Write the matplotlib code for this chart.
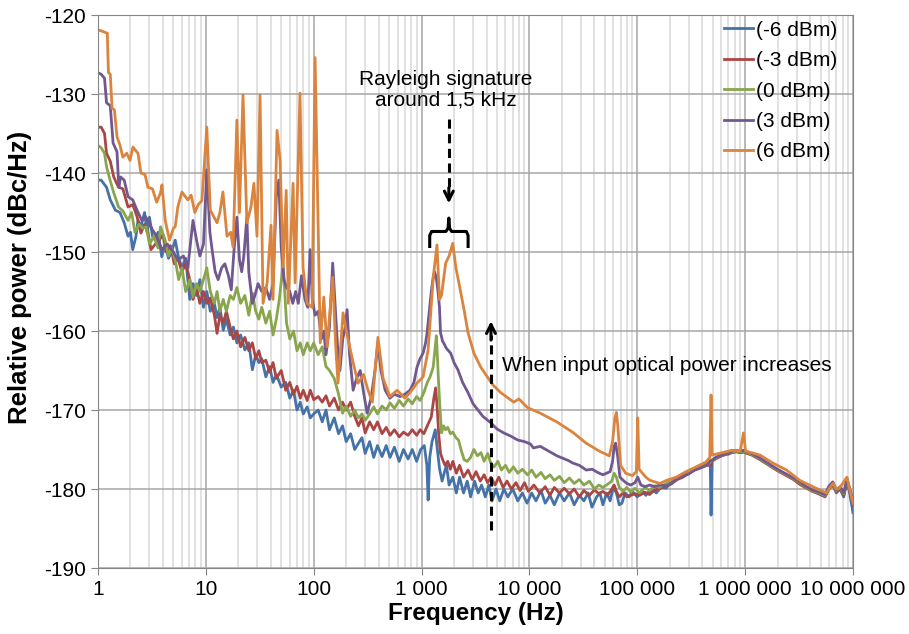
import numpy as np
import matplotlib.pyplot as plt

plt.rcParams['font.family'] = ['Liberation Sans', 'DejaVu Sans']
plt.rcParams['axes.unicode_minus'] = False

# spectra: (frequency in Hz, relative power in dBc/Hz)
minus6 = [(1.0,-140.9),(1.07,-140.9),(1.2,-141.8),(1.3,-143.4),(1.45,-144.7),(1.6,-145.0),(1.75,-146.3),(1.9,-148.0),
    (2.0,-147.5),(2.1,-149.7),(2.25,-148.0),(2.35,-146.0),(2.5,-146.8),(2.7,-145.0),(2.85,-147.5),(3.0,-145.6),
    (3.2,-148.0),(3.4,-148.5),(3.6,-147.5),(3.9,-150.6),(4.2,-149.0),(4.5,-150.8),(4.8,-150.0),(5.2,-148.5),
    (5.6,-150.8),(6.0,-152.0),(6.5,-150.8),(7.1,-156.0),(7.6,-154.0),(8.2,-155.5),(8.8,-153.5),(9.5,-157.0),
    (10.2,-155.0),(11,-157.5),(12,-156.5),(12.7,-158.3),(13.5,-157.0),(14.5,-159.9),(15.5,-158.5),(16.8,-160.5),
    (18,-159.5),(19.4,-161.5),(21,-160.5),(23,-162.4),(25,-161.5),(27,-164.9),(29,-163.0),(31,-164.0),
    (33,-163.5),(36,-165.8),(39,-164.5),(42,-166.5),(45,-165.5),(50,-167.1),(55,-166.5),(60,-168.5),
    (65,-167.5),(70,-170.0),(75,-169.0),(80,-170.5),(87,-169.6),(93,-171.0),(100,-170.5),(110,-170.0),
    (120,-171.5),(130,-170.0),(140,-172.5),(155,-171.0),(170,-173.0),(185,-172.0),(200,-174.0),(220,-173.0),
    (240,-175.0),(260,-174.2),(280,-173.5),(300,-175.5),(330,-174.0),(360,-176.0),(390,-174.5),(430,-175.9),
    (470,-174.5),(510,-176.0),(560,-174.7),(620,-176.5),(680,-175.0),(750,-176.2),(820,-175.0),(900,-176.5),
    (980,-175.0),(1060,-174.5),(1120,-177.0),(1150,-181.4),(1190,-176.0),(1250,-174.0),(1340,-172.5),(1400,-175.0),
    (1470,-177.5),(1550,-179.0),(1620,-178.0),(1700,-177.0),(1800,-179.5),(1950,-178.5),(2100,-180.5),(2250,-178.5),
    (2450,-180.5),(2650,-179.0),(2850,-181.0),(3100,-179.0),(3350,-180.5),(3600,-179.5),(3900,-181.0),(4200,-179.5),
    (4500,-181.5),(4900,-180.0),(5300,-181.5),(5800,-180.0),(6300,-181.0),(7000,-180.0),(7800,-181.5),(8600,-180.5),
    (9500,-181.8),(10500,-180.5),(11500,-181.5),(12800,-180.2),(14000,-181.8),(15500,-180.8),(17000,-182.0),
    (19000,-180.5),(21000,-181.5),(23500,-180.5),(26000,-182.0),(29000,-180.8),(32000,-181.5),(35000,-180.5),
    (38000,-182.3),(42000,-181.0),(45000,-180.5),(48000,-182.0),(52000,-180.5),(56000,-181.5),(60000,-179.8),
    (64000,-180.5),(68000,-182.0),(72000,-181.8),(77000,-180.5),(84000,-181.0),(90000,-180.3),(100000,-181.0),
    (110000,-180.2),(120000,-180.8),(135000,-180.0),(150000,-180.5),(165000,-179.8),(185000,-179.9),(210000,-179.0),
    (240000,-178.5),(270000,-178.0),(300000,-177.8),(340000,-177.5),(390000,-177.0),(440000,-176.8),(475000,-177.0),
    (483000,-183.3),(494000,-176.5),(530000,-176.2),(580000,-175.9),(640000,-175.6),(700000,-175.6),(760000,-175.3),
    (830000,-175.2),(900000,-175.4),(970000,-175.3),(1.05e6,-175.5),(1.15e6,-175.6),(1.3e6,-176.0),(1.5e6,-176.6),
    (1.7e6,-177.0),(2.0e6,-177.6),(2.4e6,-178.2),(2.8e6,-178.7),(3.2e6,-179.3),(3.7e6,-179.8),(4.2e6,-180.2),
    (4.8e6,-180.6),(5.5e6,-181.0),(6.0e6,-180.0),(6.5e6,-179.5),(7.0e6,-180.5),(7.6e6,-180.0),(8.2e6,-181.0),
    (8.8e6,-179.0),(9.3e6,-180.5),(1.0e7,-183.0)]

minus3 = [(1.0,-134.2),(1.07,-134.2),(1.15,-135.0),(1.2,-137.5),(1.3,-138.5),(1.4,-140.5),(1.55,-141.8),(1.7,-142.0),
    (1.9,-144.3),(2.1,-144.0),(2.3,-145.5),(2.5,-147.6),(2.7,-146.5),(2.9,-147.5),(3.1,-149.7),(3.4,-149.0),
    (3.7,-148.5),(4.0,-147.8),(4.3,-150.0),(4.7,-149.2),(5.1,-151.5),(5.5,-150.8),(6.0,-152.5),(6.5,-151.5),
    (7.1,-153.5),(7.6,-156.0),(8.2,-154.5),(8.8,-156.5),(9.5,-155.0),(10.2,-156.5),(11,-155.8),(12,-158.0),
    (12.7,-160.3),(13.5,-158.0),(14.5,-159.0),(15.5,-157.5),(16.8,-159.5),(18,-161.0),(19.4,-160.0),(21,-162.0),
    (23,-160.8),(25,-162.5),(27,-161.5),(29,-163.5),(31,-162.5),(33,-164.0),(36,-163.7),(39,-165.2),(42,-164.0),
    (45,-166.0),(50,-165.0),(55,-167.5),(60,-166.5),(65,-168.0),(70,-167.0),(75,-168.5),(80,-167.5),(87,-168.8),
    (93,-167.5),(100,-168.7),(110,-168.3),(120,-169.0),(130,-168.2),(140,-169.5),(155,-168.5),(170,-170.0),
    (185,-169.0),(200,-170.0),(220,-169.0),(240,-170.8),(260,-172.0),(280,-171.0),(300,-172.9),(330,-171.5),
    (360,-172.5),(390,-171.5),(430,-173.0),(470,-172.2),(510,-173.2),(560,-172.5),(620,-173.4),(680,-172.8),
    (750,-173.2),(820,-172.5),(900,-173.2),(970,-172.5),(1050,-173.0),(1130,-172.0),(1230,-170.9),(1300,-168.5),
    (1350,-167.2),(1400,-170.0),(1440,-173.0),(1500,-175.5),(1570,-176.3),(1650,-177.0),(1750,-176.5),(1850,-177.5),
    (1950,-176.5),(2100,-178.0),(2250,-177.0),(2450,-178.5),(2700,-177.6),(2950,-178.8),(3200,-177.8),(3500,-179.0),
    (3800,-178.2),(4100,-179.2),(4400,-178.5),(4800,-179.5),(5200,-178.5),(5700,-179.8),(6200,-179.0),(6800,-180.0),
    (7500,-179.2),(8200,-180.2),(9000,-179.2),(9800,-180.3),(11000,-179.5),(12500,-180.5),(14000,-179.7),
    (15500,-180.8),(17000,-179.8),(19000,-180.5),(21000,-179.9),(23500,-180.6),(26000,-180.0),(29000,-181.0),
    (32000,-180.2),(36000,-180.8),(40000,-180.1),(44000,-180.6),(48000,-180.3),(53000,-180.8),(58000,-180.0),
    (61000,-179.5),(64000,-180.3),(68000,-181.0),(74000,-180.5),(80000,-181.0),(87000,-180.8),(95000,-180.6),
    (105000,-180.8),(118000,-180.4),(130000,-180.7),(145000,-180.1),(160000,-180.0),(180000,-179.6),(205000,-179.4),
    (235000,-178.8),(265000,-178.5),(300000,-178.0),(340000,-177.6),(390000,-177.3),(440000,-177.0),(480000,-177.0),
    (494000,-176.3),(530000,-176.2),(580000,-175.9),(640000,-175.7),(700000,-175.5),(760000,-175.4),(830000,-175.3),
    (900000,-175.4),(970000,-175.3),(1.05e6,-175.5),(1.15e6,-175.7),(1.3e6,-176.1),(1.5e6,-176.6),(1.7e6,-177.1),
    (2.0e6,-177.7),(2.4e6,-178.3),(2.8e6,-178.8),(3.2e6,-179.4),(3.7e6,-179.9),(4.2e6,-180.3),(4.8e6,-180.6),
    (5.5e6,-180.9),(6.0e6,-180.0),(6.5e6,-179.4),(7.0e6,-180.3),(7.6e6,-180.0),(8.2e6,-180.8),(8.8e6,-179.0),
    (9.3e6,-180.2),(1.0e7,-182.0)]

zero = [(1.0,-136.5),(1.07,-136.8),(1.15,-137.5),(1.2,-139.2),(1.3,-141.0),(1.4,-142.5),(1.55,-144.3),(1.7,-144.8),
    (1.9,-146.0),(2.05,-145.0),(2.2,-147.5),(2.4,-146.5),(2.6,-147.0),(2.8,-146.8),(3.0,-149.0),(3.3,-148.0),
    (3.6,-149.5),(3.8,-146.8),(4.2,-148.5),(4.5,-150.5),(4.8,-149.5),(5.2,-151.0),(5.6,-153.5),(6.0,-152.0),
    (6.5,-155.0),(7.1,-153.5),(7.6,-155.7),(8.2,-154.0),(8.8,-155.0),(9.5,-153.5),(10.2,-152.0),(11,-155.0),
    (12,-156.5),(12.7,-155.0),(13.5,-157.5),(14.5,-156.0),(15.5,-157.5),(16.8,-155.5),(18,-156.0),(19.4,-154.5),
    (21,-156.5),(23,-155.5),(25,-158.0),(27,-155.2),(29,-157.5),(31,-158.5),(33,-157.0),(36,-159.0),(39,-157.5),
    (42,-160.5),(45,-158.5),(48,-156.0),(52,-151.5),(56,-159.0),(60,-161.0),(65,-160.0),(70,-162.5),(75,-161.5),
    (80,-163.0),(87,-161.5),(93,-162.5),(100,-161.5),(110,-163.0),(120,-162.0),(130,-164.5),(140,-165.0),
    (155,-166.0),(170,-168.0),(185,-170.4),(200,-169.5),(220,-170.8),(240,-170.0),(260,-171.0),(280,-170.5),
    (300,-171.3),(330,-170.5),(360,-169.6),(390,-170.5),(430,-169.5),(470,-170.0),(510,-169.1),(560,-169.8),
    (620,-168.8),(680,-169.5),(750,-168.6),(820,-169.2),(900,-168.3),(970,-168.8),(1050,-167.8),(1130,-166.5),
    (1200,-165.8),(1280,-164.6),(1340,-162.0),(1370,-160.6),(1400,-163.0),(1434,-166.2),(1470,-169.0),(1530,-172.9),
    (1600,-172.0),(1670,-172.5),(1750,-172.2),(1850,-173.0),(1950,-172.8),(2080,-173.5),(2200,-173.8),(2320,-175.0),
    (2480,-176.3),(2650,-176.5),(2850,-176.0),(3050,-175.0),(3300,-175.8),(3550,-175.4),(3800,-176.5),(4100,-175.5),
    (4400,-176.8),(4700,-177.2),(5100,-176.5),(5500,-177.6),(6000,-177.0),(6500,-177.9),(7100,-177.2),(7800,-178.0),
    (8600,-177.5),(9600,-178.2),(10500,-177.6),(11500,-178.5),(12800,-177.9),(14000,-178.7),(15500,-178.2),
    (17000,-178.9),(19000,-178.4),(21000,-179.2),(23500,-178.6),(26000,-179.3),(29000,-178.8),(32000,-179.5),
    (36000,-179.0),(40000,-180.0),(44000,-179.5),(48000,-179.8),(53000,-179.4),(58000,-179.0),(61000,-178.0),
    (64000,-178.5),(68000,-179.8),(74000,-180.3),(80000,-179.8),(87000,-180.4),(95000,-179.9),(105000,-180.5),
    (118000,-179.8),(130000,-180.2),(145000,-179.6),(160000,-179.8),(180000,-179.4),(205000,-179.0),(235000,-178.6),
    (265000,-178.2),(300000,-177.9),(340000,-177.5),(390000,-177.2),(440000,-177.0),(480000,-176.5),(494000,-176.4),
    (530000,-176.1),(580000,-175.8),(640000,-175.6),(700000,-175.4),(760000,-175.3),(830000,-175.2),(900000,-175.3),
    (970000,-175.2),(1.05e6,-175.4),(1.15e6,-175.6),(1.3e6,-176.0),(1.5e6,-176.5),(1.7e6,-177.0),(2.0e6,-177.6),
    (2.4e6,-178.2),(2.8e6,-178.7),(3.2e6,-179.2),(3.7e6,-179.8),(4.2e6,-180.2),(4.8e6,-180.5),(5.5e6,-180.8),
    (6.0e6,-179.8),(6.5e6,-179.2),(7.0e6,-180.2),(7.6e6,-179.8),(8.2e6,-180.6),(8.8e6,-178.8),(9.3e6,-180.0),
    (1.0e7,-181.5)]

plus3 = [(1.0,-127.3),(1.07,-127.5),(1.15,-128.0),(1.2,-131.1),(1.3,-131.5),(1.38,-136.2),(1.5,-137.3),(1.56,-141.8),
    (1.62,-140.5),(1.75,-140.9),(1.9,-143.0),(2.1,-143.4),(2.3,-144.7),(2.55,-146.0),(2.75,-145.5),(2.9,-146.0),
    (3.2,-147.2),(3.5,-148.0),(3.9,-149.7),(4.4,-149.0),(5.0,-150.0),(5.5,-151.0),(6.2,-150.5),(6.8,-152.0),
    (7.6,-146.0),(8.2,-148.5),(8.8,-150.5),(9.5,-149.0),(10.2,-139.6),(10.9,-147.5),(11.5,-150.0),(12.2,-152.5),
    (13,-153.5),(14,-152.0),(15,-151.5),(16.2,-153.0),(17.2,-154.8),(18.2,-150.0),(19.4,-145.6),(20.5,-151.0),
    (21.5,-152.5),(22.5,-150.5),(24,-145.6),(25,-152.5),(27,-156.5),(28.5,-155.5),(30.5,-154.0),(33,-155.0),
    (36,-154.5),(39,-156.0),(42,-154.0),(45,-143.0),(47.5,-140.9),(50,-149.5),(53,-153.5),(56,-154.5),(60,-155.0),
    (64,-156.5),(68,-155.0),(72,-156.5),(77,-153.0),(83,-156.0),(88,-157.0),(92.6,-149.7),(97,-156.0),(103,-158.0),
    (110,-157.5),(118,-161.0),(124,-160.0),(130,-163.0),(140,-159.5),(150,-151.4),(160,-158.0),(168,-163.0),
    (175,-165.0),(186,-161.0),(196,-159.5),(204,-157.3),(215,-163.0),(232,-167.5),(250,-166.0),(270,-165.0),
    (290,-167.8),(313,-170.4),(340,-168.5),(370,-165.0),(394,-161.5),(420,-165.0),(460,-167.5),(508,-168.5),
    (560,-168.0),(632,-168.3),(700,-168.0),(781,-167.5),(850,-166.5),(906,-164.6),(968,-163.5),(1034,-162.8),
    (1090,-161.5),(1126,-160.2),(1170,-158.0),(1230,-155.0),(1283,-153.2),(1320,-152.5),(1370,-153.3),(1420,-155.0),
    (1466,-157.0),(1498,-160.2),(1566,-161.3),(1600,-161.5),(1700,-162.2),(1860,-162.8),(2000,-164.0),(2170,-164.9),
    (2400,-166.5),(2695,-167.8),(3000,-169.2),(3330,-170.0),(3700,-170.8),(4370,-171.6),(5000,-172.4),(5780,-172.9),
    (6700,-173.3),(7780,-173.8),(9000,-174.0),(10200,-174.3),(10900,-174.8),(12600,-174.6),(14600,-175.1),
    (16500,-175.5),(18000,-175.8),(20300,-176.1),(23000,-176.4),(25100,-176.7),(29000,-177.0),(33600,-177.6),
    (38200,-177.5),(41600,-177.8),(44400,-178.0),(48000,-178.2),(52000,-178.0),(56000,-177.8),(59000,-176.5),
    (61000,-174.6),(63000,-174.2),(66000,-176.0),(69000,-178.5),(74000,-178.9),(80000,-179.3),(87000,-179.5),
    (95000,-179.2),(101000,-178.5),(108000,-179.5),(118000,-179.7),(130000,-179.5),(145000,-179.7),(162000,-179.5),
    (187000,-179.6),(210000,-179.2),(240000,-178.6),(270000,-178.3),(300000,-178.1),(340000,-177.6),(390000,-177.3),
    (440000,-177.0),(475000,-176.4),(494000,-176.4),(530000,-176.0),(580000,-175.8),(640000,-175.6),(700000,-175.4),
    (760000,-175.2),(830000,-175.1),(900000,-175.2),(970000,-175.1),(1.05e6,-175.3),(1.15e6,-175.5),(1.3e6,-175.9),
    (1.5e6,-176.4),(1.7e6,-176.9),(2.0e6,-177.5),(2.4e6,-178.1),(2.8e6,-178.6),(3.2e6,-179.1),(3.7e6,-179.7),
    (4.2e6,-180.1),(4.8e6,-180.4),(5.5e6,-180.7),(6.0e6,-179.6),(6.5e6,-179.1),(7.0e6,-180.1),(7.6e6,-179.7),
    (8.2e6,-180.5),(8.8e6,-178.7),(9.3e6,-179.9),(1.0e7,-181.6)]

plus6 = [(1.0,-121.9),(1.07,-122.0),(1.22,-122.3),(1.25,-127.3),(1.3,-127.5),(1.35,-131.8),(1.42,-132.0),(1.5,-135.4),
    (1.6,-136.5),(1.7,-138.0),(1.85,-137.5),(1.98,-138.4),(2.11,-136.7),(2.25,-137.2),(2.35,-137.5),(2.5,-140.0),
    (2.73,-140.2),(2.9,-141.8),(3.2,-142.0),(3.5,-143.7),(3.8,-142.5),(3.92,-141.5),(4.2,-146.0),(4.6,-148.5),
    (5.0,-147.0),(5.2,-146.8),(5.5,-144.3),(6.0,-142.4),(6.8,-143.4),(7.3,-142.8),(7.9,-145.0),(8.5,-144.0),
    (9.2,-143.5),(10.2,-134.2),(11,-144.7),(12.7,-146.3),(13.5,-145.0),(14.4,-142.4),(15.7,-148.0),(17,-147.5),
    (17.9,-149.4),(19.4,-133.3),(20.5,-145.0),(22.1,-130.1),(24,-146.3),(26.2,-144.3),(27.9,-141.3),(29.8,-148.0),
    (31.8,-130.1),(33.9,-156.5),(37,-153.9),(40.2,-146.6),(42,-156.0),(45.7,-134.6),(48.8,-138.4),(52.1,-151.9),
    (55.6,-142.2),(58.1,-156.5),(64.4,-141.3),(67.2,-153.9),(74.6,-129.9),(79.6,-152.0),(86.7,-156.5),(96.7,-157.0),
    (103,-125.4),(115,-161.5),(124,-155.7),(133,-162.0),(150,-153.2),(160,-162.0),(168,-166.6),(187,-157.7),
    (204,-160.5),(232,-164.0),(258,-166.6),(290,-165.5),(319,-167.5),(350,-169.0),(394,-160.8),(440,-166.0),
    (508,-168.3),(593,-167.5),(700,-168.5),(781,-167.8),(906,-166.6),(1034,-165.8),(1150,-162.4),(1283,-153.2),
    (1390,-149.1),(1466,-156.0),(1530,-155.5),(1673,-151.4),(1800,-150.5),(1946,-148.9),(2076,-151.9),(2218,-153.9),
    (2476,-157.3),(2695,-160.2),(3056,-162.8),(3548,-164.6),(4565,-166.8),(5420,-167.8),(7150,-169.0),(8000,-168.6),
    (9600,-169.7),(12600,-170.4),(17900,-171.5),(25100,-172.8),(33600,-174.2),(44400,-175.2),(55000,-175.8),
    (59000,-174.0),(62000,-171.0),(64000,-170.3),(66000,-172.0),(70000,-177.0),(78000,-178.0),(90000,-178.3),
    (98000,-177.8),(101000,-171.0),(104000,-177.5),(120000,-178.5),(131000,-178.9),(162000,-179.3),(187000,-178.9),
    (230000,-178.5),(284000,-177.8),(350000,-177.2),(432000,-176.6),(470000,-176.0),(483000,-168.1),(494000,-175.7),
    (610000,-175.4),(753000,-175.1),(900000,-175.2),(966000,-172.9),(1.01e6,-175.2),(1.37e6,-175.7),(1.8e6,-176.7),
    (2.42e6,-177.6),(3.21e6,-178.9),(4.23e6,-179.7),(5.67e6,-180.5),(6.52e6,-179.3),(7.0e6,-180.0),(7.57e6,-179.8),
    (8.79e6,-178.5),(9.3e6,-180.0),(1.0e7,-181.8)]

series = [minus6, minus3, zero, plus3, plus6]
labels = ['(-6 dBm)', '(-3 dBm)', '(0 dBm)', '(3 dBm)', '(6 dBm)']
colors = ['#4572A7', '#AA4643', '#89A54E', '#71588F', '#DB843D']

xticks = [1, 10, 100, 1e3, 1e4, 1e5, 1e6, 1e7]
xticklabels = ['1', '10', '100', '1 000', '10 000', '100 000', '1 000 000', '10 000 000']

fig = plt.figure(figsize=(9.09, 6.34), dpi=100)
ax = fig.add_axes([0.1078, 0.1041, 0.8306, 0.8722])

for data, lab, col in zip(series, labels, colors):
    f, p = zip(*data)
    ax.plot(f, p, color=col, lw=2.0, label=lab)

ax.set_xscale('log')
ax.set_xlim(1, 1e7)
ax.set_ylim(-190, -120)
ax.set_xticks(xticks)
ax.set_xticklabels(xticklabels)
ax.set_xticks([m * 10**d for d in range(7) for m in range(2, 10)], minor=True)
ax.tick_params(axis='x', which='minor', length=0)
ax.set_yticks(np.arange(-190, -119, 10))
ax.tick_params(axis='both', which='major', labelsize=15, length=5, color='#868686')
ax.grid(which='major', color='#A6A6A6', lw=1.1)
ax.grid(which='minor', axis='x', color='#D9D9D9', lw=1.1)
ax.set_axisbelow(True)
for s in ax.spines.values():
    s.set_color('#868686')

ax.set_xlabel('Frequency (Hz)', fontsize=17.5, fontweight='bold')
ax.xaxis.set_label_coords(0.5, -0.062)
ax.set_ylabel('Relative power (dBc/Hz)', fontsize=18.5, fontweight='bold')
ax.yaxis.set_label_coords(-0.087, 0.525)

ax.legend(loc='upper right', bbox_to_anchor=(0.99, 1.005), frameon=False, fontsize=15,
          handlelength=1.4, handletextpad=0.12, labelspacing=0.55, borderaxespad=0.0)

# annotation: Rayleigh signature
ax.text(1683, -129.4, 'Rayleigh signature\naround 1,5 kHz', ha='center', va='center',
        fontsize=15, linespacing=1.1)
ax.plot([1790, 1790], [-133.2, -142.5], color='k', lw=2.2, dashes=(3, 1.8))
ax.annotate('', xy=(1790, -144.2), xytext=(1790, -141.5),
            arrowprops=dict(arrowstyle='->', lw=2.2, color='k', mutation_scale=16))
bx = [1190, 1190, 1240, 1680, 1760, 1790, 1820, 1900, 2600, 2700, 2700]
by = [-149.3, -147.9, -147.4, -147.4, -147.0, -145.7, -147.0, -147.4, -147.4, -147.9, -149.3]
ax.plot(bx, by, color='k', lw=2.2, solid_joinstyle='round')

# annotation: power increase arrow
ax.plot([4400, 4400], [-185.2, -160.5], color='k', lw=2.2, dashes=(3, 1.8))
ax.annotate('', xy=(4400, -158.4), xytext=(4400, -161.5),
            arrowprops=dict(arrowstyle='->', lw=2.2, color='k', mutation_scale=16))
ax.text(5570, -164.4, 'When input optical power increases', ha='left', va='center', fontsize=15)

fig.savefig('out.png', dpi=100)
